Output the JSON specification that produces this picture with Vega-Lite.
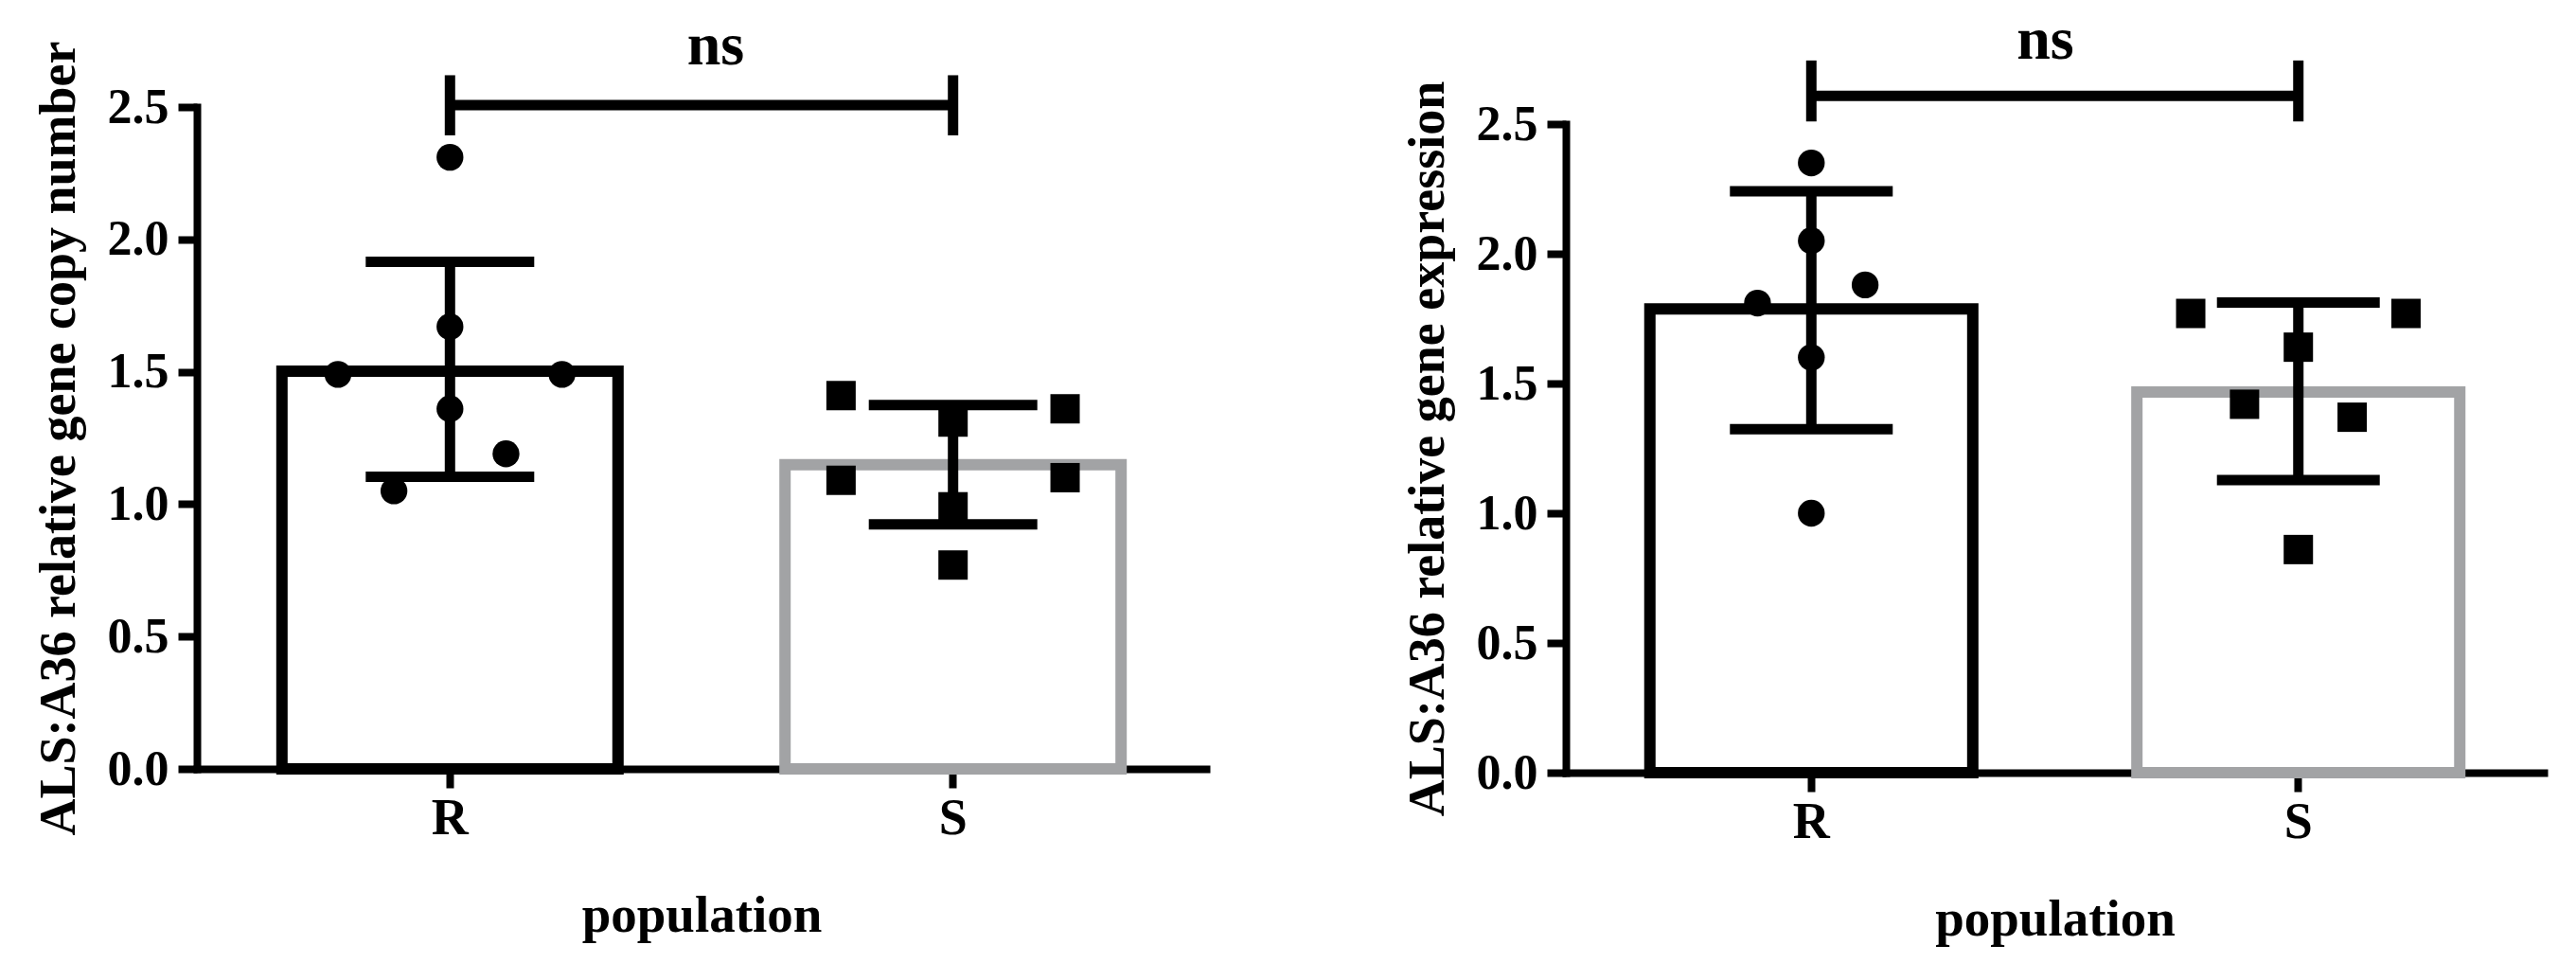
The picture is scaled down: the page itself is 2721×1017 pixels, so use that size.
{
  "$schema": "https://vega.github.io/schema/vega-lite/v6.json",
  "background": "white",
  "padding": {"left": 35, "top": 11, "right": 5, "bottom": 5},
  "spacing": 207,
  "datasets": {
    "points1": [
      {"population": "R", "value": 2.31, "jitter": "C"},
      {"population": "R", "value": 1.67, "jitter": "C"},
      {"population": "R", "value": 1.49, "jitter": "L2"},
      {"population": "R", "value": 1.49, "jitter": "R2"},
      {"population": "R", "value": 1.36, "jitter": "C"},
      {"population": "R", "value": 1.19, "jitter": "R1"},
      {"population": "R", "value": 1.05, "jitter": "L1"},
      {"population": "S", "value": 1.41, "jitter": "L2"},
      {"population": "S", "value": 1.36, "jitter": "R2"},
      {"population": "S", "value": 1.31, "jitter": "C"},
      {"population": "S", "value": 1.09, "jitter": "L2"},
      {"population": "S", "value": 1.10, "jitter": "R2"},
      {"population": "S", "value": 0.99, "jitter": "C"},
      {"population": "S", "value": 0.77, "jitter": "C"}
    ],
    "summary1": [
      {"population": "R", "mean": 1.502, "lo": 1.103, "hi": 1.915},
      {"population": "S", "mean": 1.149, "lo": 0.924, "hi": 1.374}
    ],
    "bracket1": [
      {"population": "R", "y": 2.507, "lo": 2.393, "hi": 2.62},
      {"population": "S", "y": 2.507, "lo": 2.393, "hi": 2.62}
    ],
    "points2": [
      {"population": "R", "value": 2.35, "jitter": "C"},
      {"population": "R", "value": 2.05, "jitter": "C"},
      {"population": "R", "value": 1.88, "jitter": "R1"},
      {"population": "R", "value": 1.81, "jitter": "L1"},
      {"population": "R", "value": 1.60, "jitter": "C"},
      {"population": "R", "value": 1.00, "jitter": "C"},
      {"population": "S", "value": 1.77, "jitter": "L2"},
      {"population": "S", "value": 1.77, "jitter": "R2"},
      {"population": "S", "value": 1.64, "jitter": "C"},
      {"population": "S", "value": 1.42, "jitter": "L1"},
      {"population": "S", "value": 1.37, "jitter": "R1"},
      {"population": "S", "value": 0.86, "jitter": "C"}
    ],
    "summary2": [
      {"population": "R", "mean": 1.787, "lo": 1.324, "hi": 2.241},
      {"population": "S", "mean": 1.467, "lo": 1.128, "hi": 1.812}
    ],
    "bracket2": [
      {"population": "R", "y": 2.609, "lo": 2.51, "hi": 2.745},
      {"population": "S", "y": 2.609, "lo": 2.51, "hi": 2.745}
    ]
  },
  "hconcat": [
    {
      "width": 1066,
      "height": 699,
      "title": {"text": "ns", "offset": -38, "dx": 15},
      "resolve": {"scale": {"xOffset": "independent"}},
      "layer": [
        {
          "data": {"name": "summary1"},
          "mark": {"type": "bar", "fill": "white", "strokeWidth": 12},
          "encoding": {
            "x": {"field": "population", "type": "nominal", "title": "population",
                  "scale": {"domain": ["R", "S"], "paddingInner": 0.332, "paddingOuter": 0.169}},
            "y": {"field": "mean", "type": "quantitative", "title": "ALS:A36 relative gene copy number",
                  "scale": {"domain": [0, 2.5], "nice": false, "zero": true},
                  "axis": {"values": [0, 0.5, 1, 1.5, 2, 2.5], "format": ".1f"}},
            "stroke": {"field": "population", "type": "nominal",
                       "scale": {"domain": ["R", "S"], "range": ["#000000", "#a2a3a5"]}, "legend": null}
          }
        },
        {
          "data": {"name": "summary1"},
          "mark": {"type": "rule", "color": "black", "strokeWidth": 11},
          "encoding": {
            "x": {"field": "population", "type": "nominal"},
            "y": {"field": "lo", "type": "quantitative"},
            "y2": {"field": "hi"}
          }
        },
        {
          "data": {"name": "summary1"},
          "mark": {"type": "tick", "color": "black", "thickness": 11, "size": 178, "orient": "horizontal", "opacity": 1},
          "encoding": {
            "x": {"field": "population", "type": "nominal"},
            "y": {"field": "lo", "type": "quantitative"}
          }
        },
        {
          "data": {"name": "summary1"},
          "mark": {"type": "tick", "color": "black", "thickness": 11, "size": 178, "orient": "horizontal", "opacity": 1},
          "encoding": {
            "x": {"field": "population", "type": "nominal"},
            "y": {"field": "hi", "type": "quantitative"}
          }
        },
        {
          "data": {"name": "points1"},
          "mark": {"type": "point", "filled": true, "color": "black", "opacity": 1},
          "encoding": {
            "x": {"field": "population", "type": "nominal"},
            "xOffset": {"field": "jitter", "type": "nominal",
                        "scale": {"domain": ["L2", "L1", "C", "R1", "R2"], "paddingInner": 0, "paddingOuter": 6.16}},
            "y": {"field": "value", "type": "quantitative"},
            "shape": {"field": "population", "type": "nominal",
                      "scale": {"domain": ["R", "S"], "range": ["circle", "square"]}, "legend": null},
            "size": {"field": "population", "type": "ordinal",
                     "scale": {"domain": ["R", "S"], "range": [804, 961]}, "legend": null}
          }
        },
        {
          "data": {"name": "bracket1"},
          "mark": {"type": "line", "color": "black", "strokeWidth": 11},
          "encoding": {
            "x": {"field": "population", "type": "nominal"},
            "y": {"field": "y", "type": "quantitative"}
          }
        },
        {
          "data": {"name": "bracket1"},
          "mark": {"type": "rule", "color": "black", "strokeWidth": 11},
          "encoding": {
            "x": {"field": "population", "type": "nominal"},
            "y": {"field": "lo", "type": "quantitative"},
            "y2": {"field": "hi"}
          }
        }
      ]
    },
    {
      "width": 1033,
      "height": 703,
      "title": {"text": "ns", "offset": -17, "dx": -10},
      "resolve": {"scale": {"xOffset": "independent"}},
      "layer": [
        {
          "data": {"name": "summary2"},
          "mark": {"type": "bar", "fill": "white", "strokeWidth": 12},
          "encoding": {
            "x": {"field": "population", "type": "nominal", "title": "population",
                  "scale": {"domain": ["R", "S"], "paddingInner": 0.337, "paddingOuter": 0.1725}},
            "y": {"field": "mean", "type": "quantitative", "title": "ALS:A36 relative gene expression",
                  "scale": {"domain": [0, 2.5], "nice": false, "zero": true, "range": [703, 18]},
                  "axis": {"values": [0, 0.5, 1, 1.5, 2, 2.5], "format": ".1f"}},
            "stroke": {"field": "population", "type": "nominal",
                       "scale": {"domain": ["R", "S"], "range": ["#000000", "#a2a3a5"]}, "legend": null}
          }
        },
        {
          "data": {"name": "summary2"},
          "mark": {"type": "rule", "color": "black", "strokeWidth": 11},
          "encoding": {
            "x": {"field": "population", "type": "nominal"},
            "y": {"field": "lo", "type": "quantitative"},
            "y2": {"field": "hi"}
          }
        },
        {
          "data": {"name": "summary2"},
          "mark": {"type": "tick", "color": "black", "thickness": 11, "size": 172, "orient": "horizontal", "opacity": 1},
          "encoding": {
            "x": {"field": "population", "type": "nominal"},
            "y": {"field": "lo", "type": "quantitative"}
          }
        },
        {
          "data": {"name": "summary2"},
          "mark": {"type": "tick", "color": "black", "thickness": 11, "size": 172, "orient": "horizontal", "opacity": 1},
          "encoding": {
            "x": {"field": "population", "type": "nominal"},
            "y": {"field": "hi", "type": "quantitative"}
          }
        },
        {
          "data": {"name": "points2"},
          "mark": {"type": "point", "filled": true, "color": "black", "opacity": 1},
          "encoding": {
            "x": {"field": "population", "type": "nominal"},
            "xOffset": {"field": "jitter", "type": "nominal",
                        "scale": {"domain": ["L2", "L1", "C", "R1", "R2"], "paddingInner": 0, "paddingOuter": 5.82}},
            "y": {"field": "value", "type": "quantitative"},
            "shape": {"field": "population", "type": "nominal",
                      "scale": {"domain": ["R", "S"], "range": ["circle", "square"]}, "legend": null},
            "size": {"field": "population", "type": "ordinal",
                     "scale": {"domain": ["R", "S"], "range": [804, 961]}, "legend": null}
          }
        },
        {
          "data": {"name": "bracket2"},
          "mark": {"type": "line", "color": "black", "strokeWidth": 11},
          "encoding": {
            "x": {"field": "population", "type": "nominal"},
            "y": {"field": "y", "type": "quantitative"}
          }
        },
        {
          "data": {"name": "bracket2"},
          "mark": {"type": "rule", "color": "black", "strokeWidth": 11},
          "encoding": {
            "x": {"field": "population", "type": "nominal"},
            "y": {"field": "lo", "type": "quantitative"},
            "y2": {"field": "hi"}
          }
        }
      ]
    }
  ],
  "config": {
    "font": "Liberation Serif",
    "view": {"stroke": null},
    "title": {"font": "Liberation Serif", "fontWeight": "bold", "fontSize": 64, "color": "#000000",
              "baseline": "alphabetic", "frame": "group", "anchor": "middle"},
    "axis": {
      "labelFont": "Liberation Serif", "labelFontWeight": "bold", "labelColor": "#000000",
      "titleFont": "Liberation Serif", "titleFontWeight": "bold", "titleColor": "#000000",
      "domainColor": "#000000", "domainWidth": 8, "domainCap": "square",
      "tickColor": "#000000", "tickWidth": 8, "tickSize": 20,
      "grid": false, "zindex": 1
    },
    "axisY": {
      "labelFontSize": 52, "labelPadding": 10, "titleFontSize": 54, "titlePadding": 24
    },
    "axisX": {
      "labelAngle": 0, "labelFontSize": 54, "labelPadding": 5,
      "titleFontSize": 55, "titlePadding": 49
    }
  }
}
